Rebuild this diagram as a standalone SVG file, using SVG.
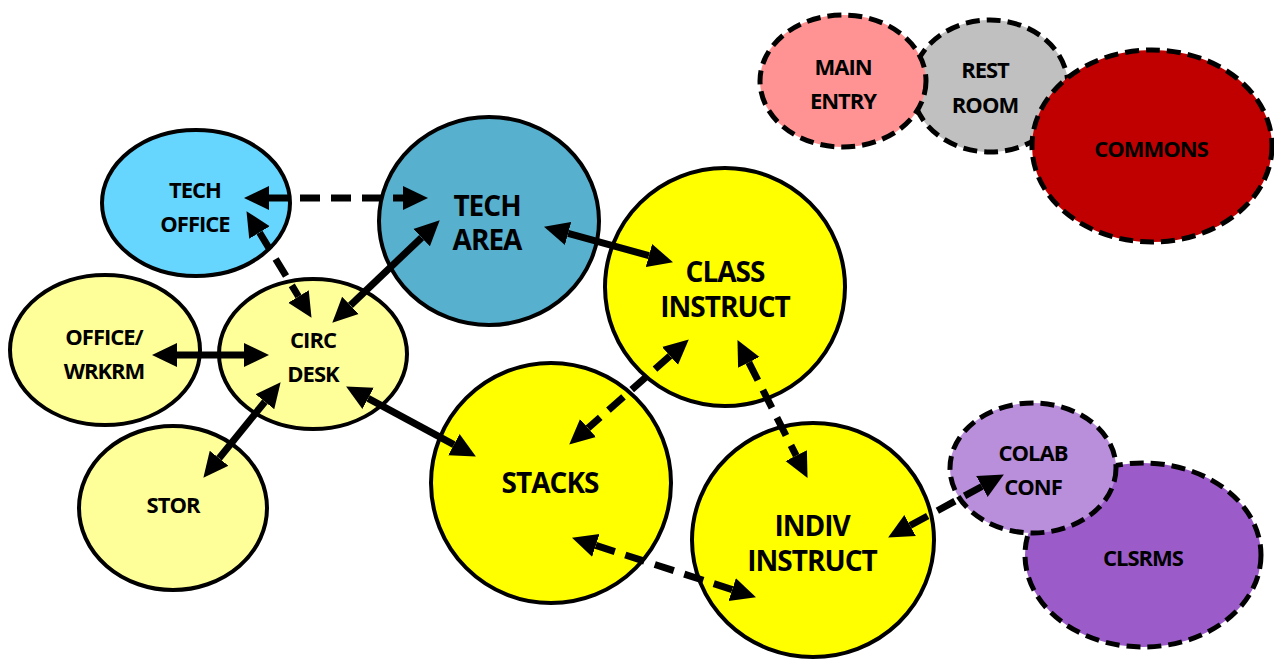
<svg xmlns="http://www.w3.org/2000/svg" width="1274" height="660" viewBox="0 0 1274 660">
<style>
.n{stroke:#000;stroke-width:4}
.d{stroke:#000;stroke-width:5;stroke-dasharray:14 7}
.t{font-family:"Open Sans","Noto Sans",sans-serif;font-weight:bold;fill:#000;text-anchor:middle}
.s{font-size:22px;letter-spacing:-1px}
.l{font-size:28px;letter-spacing:-1px}
.c{stroke:#000;stroke-width:7;fill:none;marker-start:url(#ah);marker-end:url(#ah)}
.cd{stroke-dasharray:20 11}
</style>
<defs>
<marker id="ah" markerUnits="userSpaceOnUse" markerWidth="26" markerHeight="26" refX="0" refY="12" orient="auto-start-reverse" viewBox="0 0 26 24">
<path d="M0,0 L25,12 L0,24 Z" fill="#000"/>
</marker>
</defs>
<g id="rest-room"><ellipse class="d" cx="990" cy="86" rx="78" ry="66" fill="#C0C0C0"/><text class="t s" x="985" y="78">REST</text><text class="t s" x="985" y="113">ROOM</text></g>
<g id="main-entry"><ellipse class="d" cx="843" cy="81" rx="83" ry="66" fill="#FF9393"/><text class="t s" x="843" y="75">MAIN</text><text class="t s" x="843" y="109">ENTRY</text></g>
<g id="commons"><ellipse class="d" cx="1152" cy="146" rx="120" ry="96" fill="#C00000"/><text class="t s" x="1151" y="157">COMMONS</text></g>
<g id="clsrms"><ellipse class="d" cx="1143" cy="555" rx="118" ry="92" fill="#9B5CC9"/><text class="t s" x="1143" y="566">CLSRMS</text></g>
<g id="colab-conf"><ellipse class="d" cx="1033" cy="468" rx="83" ry="65" fill="#B98EDB"/><text class="t s" x="1033" y="461">COLAB</text><text class="t s" x="1033" y="495">CONF</text></g>
<g id="tech-office"><ellipse class="n" cx="196" cy="203" rx="94" ry="73" fill="#66D6FF"/><text class="t s" x="195" y="198">TECH</text><text class="t s" x="195" y="232">OFFICE</text></g>
<g id="tech-area"><ellipse class="n" cx="489" cy="221" rx="110" ry="104" fill="#56B0CE"/><text class="t l" x="487" y="216">TECH</text><text class="t l" x="487" y="250">AREA</text></g>
<g id="class-instruct"><ellipse class="n" cx="725" cy="287" rx="120" ry="119" fill="#FFFF00"/><text class="t l" x="725" y="282">CLASS</text><text class="t l" x="725" y="317">INSTRUCT</text></g>
<g id="office-wrkrm"><ellipse class="n" cx="105" cy="350" rx="95" ry="75" fill="#FFFF99"/><text class="t s" x="104" y="345">OFFICE/</text><text class="t s" x="104" y="379">WRKRM</text></g>
<g id="circ-desk"><ellipse class="n" cx="313" cy="354" rx="94" ry="75" fill="#FFFF99"/><text class="t s" x="313" y="348">CIRC</text><text class="t s" x="313" y="382">DESK</text></g>
<g id="stor"><ellipse class="n" cx="173" cy="508" rx="94" ry="82" fill="#FFFF99"/><text class="t s" x="173" y="513">STOR</text></g>
<g id="stacks"><ellipse class="n" cx="551" cy="483" rx="120" ry="120" fill="#FFFF00"/><text class="t l" x="550" y="493">STACKS</text></g>
<g id="indiv-instruct"><ellipse class="n" cx="813" cy="540" rx="121" ry="117" fill="#FFFF00"/><text class="t l" x="812" y="536">INDIV</text><text class="t l" x="812" y="571">INSTRUCT</text></g>
<g id="connectors">
<line class="c cd" x1="269" y1="198" x2="403" y2="198"/>
<line class="c cd" x1="259.5" y1="232.5" x2="298.5" y2="296.5"/>
<line class="c" x1="421.6" y1="237.6" x2="350.4" y2="305.4"/>
<line class="c" x1="177" y1="355" x2="244" y2="355"/>
<line class="c" x1="264.9" y1="401.7" x2="219.1" y2="458.3"/>
<line class="c" x1="368.1" y1="398.4" x2="453.9" y2="444.6"/>
<line class="c" x1="568.1" y1="233.4" x2="648.9" y2="255.6"/>
<line class="c cd" x1="670" y1="355.9" x2="588" y2="428.1"/>
<line class="c cd" x1="748.8" y1="362.4" x2="796.2" y2="455.6"/>
<line class="c cd" x1="595.8" y1="545.4" x2="732.2" y2="589.6"/>
<line class="c cd" x1="910.1" y1="525.5" x2="981.9" y2="486.5"/>
</g>
</svg>
